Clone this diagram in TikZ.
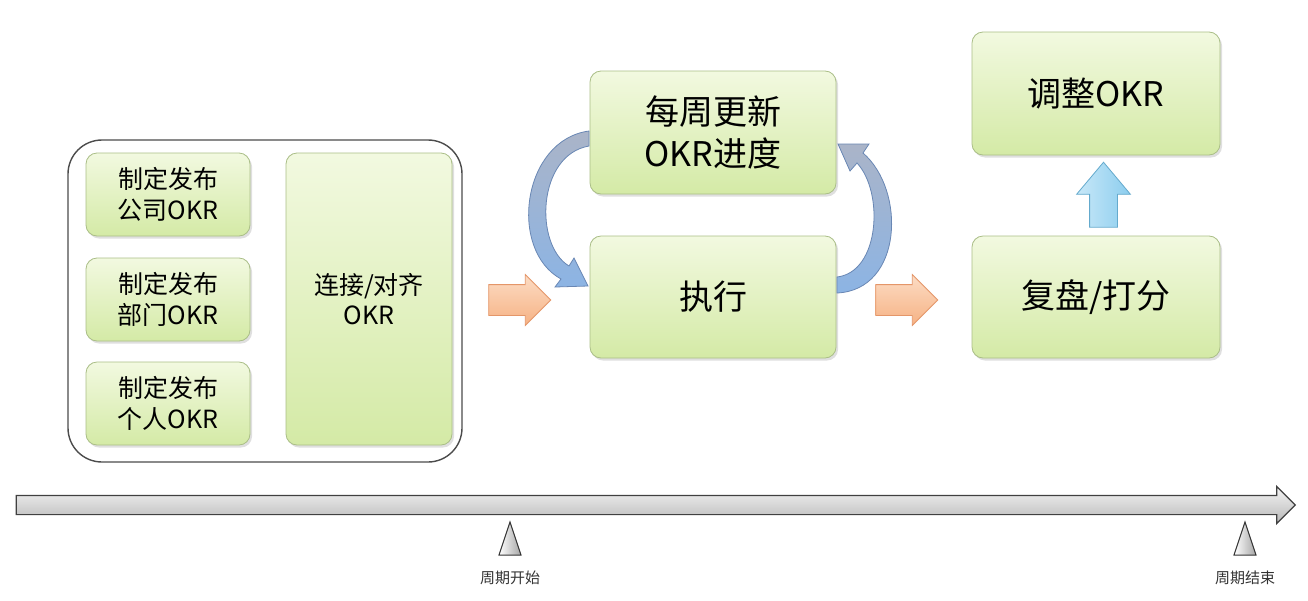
\documentclass[tikz,border=0pt]{standalone}
\usepackage{fontspec}
\setmainfont{Noto Sans CJK SC}
\usetikzlibrary{shapes.arrows,shadows}
\definecolor{gtop}{RGB}{242,249,224}
\definecolor{gbot}{RGB}{212,234,166}
\definecolor{gborder}{RGB}{170,190,135}
\definecolor{otop}{RGB}{252,220,196}
\definecolor{obot}{RGB}{246,178,132}
\definecolor{oborder}{RGB}{228,150,105}
\definecolor{btop}{RGB}{170,180,200}
\definecolor{bbot}{RGB}{140,180,228}
\definecolor{bborder}{RGB}{105,135,180}
\definecolor{ctop}{RGB}{200,232,248}
\definecolor{cbot}{RGB}{140,205,238}
\definecolor{cborder}{RGB}{100,170,205}
\begin{document}
\begin{tikzpicture}[x=1pt,y=-1pt,
  gbox/.style={draw=gborder, line width=0.8pt, rounded corners=11pt,
    top color=gtop, bottom color=gbot, align=center, inner sep=0pt,
    drop shadow={shadow xshift=2pt, shadow yshift=-2.5pt, opacity=0.25}},
  small/.style={gbox, minimum width=164pt, minimum height=83pt,
    font=\fontsize{25}{31}\selectfont},
  big/.style={gbox, minimum width=246pt, minimum height=123pt,
    font=\fontsize{34}{42}\selectfont},
  oarrow/.style={single arrow, draw=oborder, line width=0.8pt,
    top color=otop, bottom color=obot, minimum height=62pt,
    inner xsep=0pt, inner ysep=15pt, single arrow head extend=10pt},
  barc/.style={draw=bborder, line width=0.8pt, top color=btop, bottom color=bbot},
  marker/.style={draw=black!80, line width=1pt, left color=white, right color=black!35}
]
\useasboundingbox (0,0) rectangle (1308,600);
\fill[white] (0,0) rectangle (1308,600);

% group frame
\node[draw=black!70, line width=1.4pt, rounded corners=34pt, fill=white,
  minimum width=394pt, minimum height=322pt] (grp) at (265,301) {};

\node[small] (co) at (168,194.5) {制定发布\\公司OKR};
\node[small] (de) at (168,299.5) {制定发布\\部门OKR};
\node[small] (pe) at (168,403.5) {制定发布\\个人OKR};
\node[gbox, minimum width=166pt, minimum height=292pt,
  font=\fontsize{25}{30}\selectfont] (al) at (369,299) {连接/对齐\\OKR};

\node[oarrow] (a1) at (512,300) {};

\node[big] (upd) at (713,132.5) {每周更新\\OKR进度};
\node[big, minimum height=122pt] (exe) at (713,297) {执行};

% curved arrows
\path[barc] (589,131) .. controls (522,140) and (508,250) .. (561,279)
  -- (555,287) -- (588,286) -- (574,258) -- (569,266)
  .. controls (534,245) and (537,155) .. (589,146) -- cycle;
\path[barc] (837,293) .. controls (903,290) and (906,190) .. (863,153)
  -- (869,144) -- (838,144) -- (850,171) -- (857,163)
  .. controls (884,192) and (880,272) .. (837,277) -- cycle;

\node[oarrow] (a2) at (899,300) {};

\node[big, minimum width=248pt, minimum height=122pt] (rev) at (1096,297) {复盘/打分};
\node[big, minimum width=248pt] (adj) at (1096,93.5) {调整OKR};

\node[single arrow, draw=cborder, line width=0.8pt, left color=ctop, right color=cbot,
  minimum height=65pt, inner xsep=0pt, inner ysep=13.5pt, single arrow head extend=13pt,
  single arrow tip angle=80, rotate=90] (up) at (1103.5,203) {};

% timeline
\node[single arrow, draw=black!75, line width=1.2pt, top color=black!4, bottom color=black!28,
  minimum height=1279pt, inner xsep=0pt, inner ysep=9pt, single arrow head extend=9pt] (tl) at (651,505) {};

\coordinate (t1) at (510,522);
\coordinate (t2) at (1245,522);
\draw[marker] (t1) -- ++(11,33) -- ++(-22,0) -- cycle;
\draw[marker] (t2) -- ++(11,33) -- ++(-22,0) -- cycle;
\node[font=\fontsize{15}{18}\selectfont, text=black!80] (l1) at (510,578) {周期开始};
\node[font=\fontsize{15}{18}\selectfont, text=black!80] (l2) at (1245,578) {周期结束};
\end{tikzpicture}
\end{document}
